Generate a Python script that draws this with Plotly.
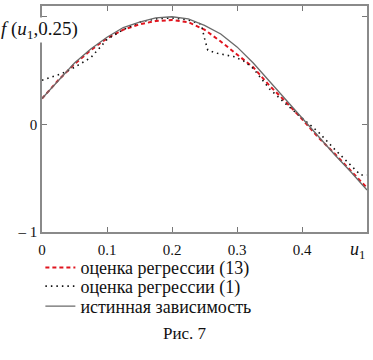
import plotly.graph_objects as go

# True dependence
u_true = [0, 0.025, 0.05, 0.075, 0.1, 0.125, 0.15, 0.175, 0.2, 0.225, 0.25, 0.275,
          0.29, 0.3, 0.325, 0.35, 0.375, 0.4, 0.425, 0.45, 0.475, 0.5]
f_true = [0.24, 0.41, 0.57, 0.70, 0.81, 0.90, 0.95, 0.99, 1.00, 0.98, 0.92, 0.84,
          0.77, 0.72, 0.57, 0.40, 0.22, 0.06, -0.12, -0.28, -0.44, -0.61]

# Regression estimate (13)
u_reg13 = [0, 0.025, 0.05, 0.075, 0.1, 0.125, 0.15, 0.175, 0.2, 0.225, 0.25, 0.275,
           0.3, 0.325, 0.35, 0.375, 0.4, 0.425, 0.45, 0.475, 0.5]
f_reg13 = [0.24, 0.41, 0.56, 0.69, 0.80, 0.88, 0.93, 0.96, 0.97, 0.95, 0.88, 0.77,
           0.65, 0.53, 0.36, 0.21, 0.05, -0.12, -0.27, -0.43, -0.59]

# Regression estimate (1)
u_reg1 = [0, 0.03, 0.05, 0.075, 0.09, 0.1, 0.125, 0.15, 0.175, 0.2, 0.225, 0.245,
          0.25, 0.255, 0.27, 0.295, 0.31, 0.325, 0.35, 0.375, 0.4, 0.425, 0.45,
          0.475, 0.49, 0.5]
f_reg1 = [0.41, 0.47, 0.53, 0.62, 0.72, 0.79, 0.88, 0.95, 0.98, 0.99, 0.97, 0.93,
          0.80, 0.69, 0.66, 0.63, 0.59, 0.52, 0.33, 0.19, 0.06, -0.07, -0.23,
          -0.38, -0.47, -0.47]

x_ticks = [0, 0.1, 0.2, 0.3, 0.4, 0.5]
x_ticktext = ["0", "0.1", "0.2", "0.3", "0.4", ""]
y_ticks = [-1, 0, 1]
y_ticktext = ["\u2013 1", "0", ""]

names = ["оценка регрессии (13)", "оценка регрессии (1)", "истинная зависимость"]

SERIF = "Times New Roman"
INK = "#111111"

fig = go.Figure()
fig.add_trace(go.Scatter(x=u_reg13, y=f_reg13, mode="lines", name=names[0], legend="legend",
                         line=dict(color="#e0141e", width=2, dash="4px,3px")))
fig.add_trace(go.Scatter(x=u_reg1, y=f_reg1, mode="lines", name=names[1], legend="legend2",
                         line=dict(color=INK, width=1.6, dash="1.5px,4px")))
fig.add_trace(go.Scatter(x=u_true, y=f_true, mode="lines", name=names[2], legend="legend3",
                         line=dict(color="#6a6a6a", width=1.3)))

leg_common = dict(x=-0.005, xanchor="left", yanchor="middle",
                  font=dict(family=SERIF, size=18, color=INK),
                  bgcolor="rgba(0,0,0,0)", itemwidth=30)

fig.update_layout(
    width=373, height=360,
    margin=dict(l=42, r=6, t=4, b=128),
    plot_bgcolor="white", paper_bgcolor="white",
    font=dict(family=SERIF, size=14, color=INK),
    showlegend=True,
    legend=dict(y=-0.158, **leg_common),
    legend2=dict(y=-0.241, **leg_common),
    legend3=dict(y=-0.329, **leg_common),
    xaxis=dict(range=[0, 0.5], tickvals=x_ticks, ticktext=x_ticktext,
               ticks="inside", ticklen=5, tickcolor="#777777",
               showline=True, linecolor="#8a8a8a", linewidth=1.5, mirror="ticks",
               showgrid=False, zeroline=False, ticklabelstandoff=3,
               tickfont=dict(family=SERIF, size=15, color=INK)),
    yaxis=dict(range=[-1, 1.1], tickvals=y_ticks, ticktext=y_ticktext,
               ticks="inside", ticklen=5, tickcolor="#777777",
               showline=True, linecolor="#8a8a8a", linewidth=1.5, mirror="ticks",
               showgrid=False, zeroline=False,
               tickfont=dict(family=SERIF, size=15, color=INK)),
    annotations=[
        dict(text="<i>f</i> (<i>u</i><sub>1</sub>,0.25)", xref="paper", yref="y",
             x=-0.128, y=0.88, xanchor="left", yanchor="middle", showarrow=False,
             bgcolor="white", borderpad=0,
             font=dict(family=SERIF, size=19, color=INK)),
        dict(text="<i>u</i><sub>1</sub>", xref="paper", yref="paper",
             x=1.0, y=-0.02, xanchor="right", yanchor="top", showarrow=False,
             font=dict(family=SERIF, size=18, color=INK)),
        dict(text="Рис. 7", xref="paper", yref="paper", x=0.44, y=-0.447,
             xanchor="center", yanchor="middle", showarrow=False,
             font=dict(family=SERIF, size=17, color=INK)),
    ],
)

fig.write_html("out.html", config={"displayModeBar": False},
               post_script="document.body.style.margin='0';document.body.style.padding='0';")
